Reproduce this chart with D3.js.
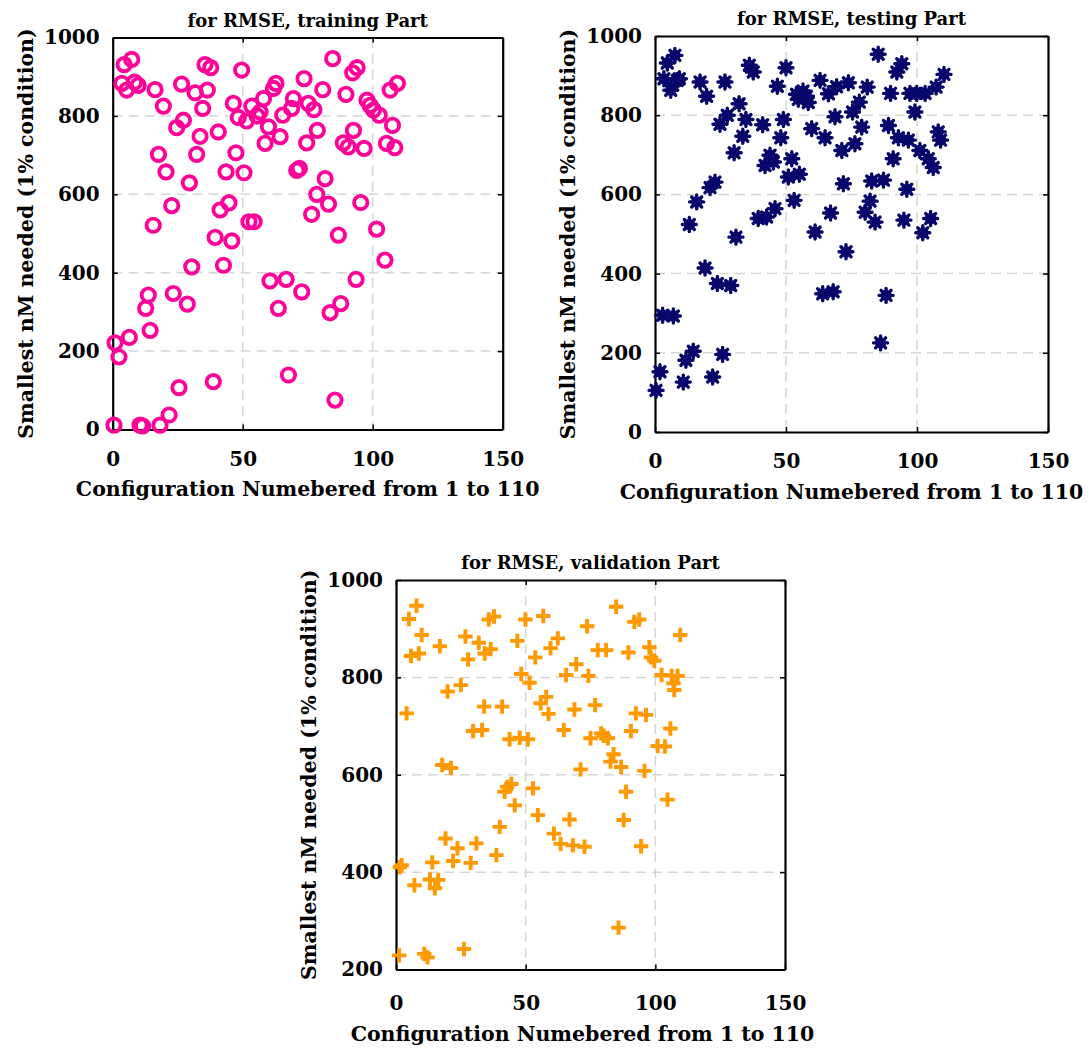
<!DOCTYPE html>
<html>
<head>
<meta charset="utf-8">
<script src="https://cdn.jsdelivr.net/npm/d3@7"></script>
<style>
  body { margin: 0; background: #fff; }
  text { font-family: "DejaVu Serif", serif; font-weight: bold; fill: #000; }
</style>
</head>
<body>
<div id="chart-area"></div>
<script>
// training part (circles)
const trainX = [7.3, 4.4, 3.5, 5.4, 8.4, 9.8, 16.3, 19.5, 26.5, 31.7, 36.4, 35.5, 37.7, 49.6, 34.6, 27.2, 24.6, 33.6, 40.6, 17.6,
    32.3, 47.4, 20.5, 29.5, 43.6, 50.5, 46.4, 48.3, 51.5, 53.5, 56.7, 55.5, 58, 59.9, 58.6, 64.4, 61.8, 62.8, 65.4, 68.8,
    84.6, 92.3, 94, 73.6, 80.8, 89.7, 106.7, 109.5, 69.5, 75.2, 77.4, 97.8, 99, 100.3, 102.5, 107.6, 78.7, 74.6, 92.6, 88.7,
    90.6, 96.7, 105.3, 108.5, 70.8, 71.8, 81.7, 78.5, 83, 76.5, 95.4, 86.8, 101.5, 104.7, 93.6, 72.7, 83.6, 87.7, 85.5,
    22.7, 15.6, 41.3, 44.7, 52.4, 54.4, 39.4, 45.8, 30.4, 42.6, 60.5, 66.7, 63.7, 13.7, 12.7, 23.3, 28.7, 14.4, 6.4, 0.9,
    2.4, 25.5, 38.7, 67.6, 0.5, 10.5, 11.5, 18.2, 21.7];
const trainY = [944, 931, 883, 866, 886, 878, 867, 825, 881, 859, 866, 931, 923, 917, 819, 789, 770, 748, 759, 702,
    702, 706, 657, 629, 657, 655, 832, 796, 787, 825, 810, 800, 844, 772, 730, 747, 870, 883, 802, 819,
    946, 910, 923, 895, 867, 855, 866, 883, 844, 832, 816, 840, 827, 815, 802, 776, 763, 731, 763, 731,
    721, 717, 730, 719, 661, 666, 640, 600, 575, 549, 579, 496, 511, 432, 383, 351, 298, 321, 75,
    571, 521, 560, 578, 530, 530, 490, 481, 415, 419, 379, 383, 309, 343, 309, 347, 320, 253, 235, 221,
    185, 107, 122, 139, 11, 11, 9, 11, 37];

// testing part (asterisks)
const testX = [7.6, 4.7, 3.4, 6, 9.3, 8.5, 17.2, 19.7, 26.7, 36, 37.5, 50, 46.7, 32.1, 27.6, 24.8, 34.7, 33.5, 41.1, 49,
    48, 30.2, 43.9, 42, 45.2, 52.2, 50.9, 55.1, 22.9, 21, 15.9, 13.1, 39.4, 42.6, 45.8, 53.1, 30.9, 19.1, 23.8, 28.9,
    2.9, 7, 14.6, 11.8, 25.8, 1.9, 0.4, 10.8, 22, 54, 56.5, 58.5, 54.7, 57.8, 63, 59.8, 64.9, 66.2, 61.1, 64,
    67, 68, 85.2, 92.3, 94.2, 110.3, 107.3, 103.1, 99.9, 97.3, 99.2, 89.9, 81, 78, 75.4, 73.8, 69.3, 68.7, 78.9, 89.1,
    92.9, 96.7, 71.3, 76.3, 90.9, 101.1, 104.3, 106.2, 109, 108.1, 71.9, 82.7, 87.2, 96.1, 82.1, 80.2, 84, 95, 105.2, 102.2,
    72.9, 88.2, 86.1];
const testY = [951, 932, 892, 863, 892, 888, 884, 848, 884, 926, 909, 920, 873, 829, 800, 777, 789, 747, 776, 789,
    743, 705, 699, 673, 682, 690, 644, 651, 631, 617, 581, 524, 539, 543, 564, 585, 492, 414, 375, 370,
    295, 293, 204, 181, 196, 152, 105, 126, 139, 853, 861, 832, 840, 848, 888, 766, 743, 854, 505, 349,
    553, 354, 954, 909, 930, 903, 871, 855, 855, 855, 808, 855, 871, 833, 808, 882, 872, 796, 770, 774,
    743, 737, 711, 728, 690, 711, 690, 668, 737, 758, 627, 634, 636, 613, 583, 555, 530, 535, 539, 503,
    455, 345, 225];

// validation part (plus signs)
const validX = [7.9, 5, 9.9, 5.8, 8.8, 16.9, 26.8, 31.9, 34.2, 36.5, 27.8, 35.8, 37.8, 49.9, 56.8, 46.8, 53.7, 62.4, 59.6, 48.3,
    51.5, 65.6, 69.5, 73.7, 74.2, 25, 19.9, 4.1, 34, 40.9, 55.8, 57.9, 58.8, 68.8, 29.7, 33.2, 43.8, 47.7, 50.9, 64.7,
    75, 17.8, 21.2, 71.2, 44.5, 41.9, 42.9, 52.8, 45.8, 54.7, 66.9, 40, 60.9, 63.5, 68.2, 72.7, 19.1, 23.7, 22, 31,
    28.8, 38.7, 14, 2.2, 1.5, 7.1, 13.1, 16.3, 15, 1.2, 10.9, 12.2, 26.2,
    84.9, 91.9, 93.8, 109.6, 77.8, 81, 89.6, 97.7, 98.3, 99.6, 102.4, 106.3, 108.6, 107, 107.3, 76.8, 92.5, 96.4, 90.6, 105.8,
    79.1, 81.7, 80.1, 100.9, 103.7, 83.9, 82.7, 86.8, 95.8, 88.7, 104.7, 87.8, 94.5, 85.8];
const validY = [947, 920, 887, 844, 849, 864, 884, 871, 849, 858, 837, 919, 925, 919, 926, 875, 841, 880, 860, 807,
    789, 805, 827, 905, 803, 784, 771, 726, 740, 740, 747, 760, 725, 734, 690, 692, 673, 676, 673, 692,
    675, 620, 614, 611, 581, 565, 575, 572, 537, 517, 508, 493, 479, 458, 455, 452, 469, 449, 423, 459,
    419, 435, 420, 414, 410, 373, 385, 384, 367, 229, 232, 225, 242,
    945, 914, 919, 887, 856, 856, 851, 862, 841, 834, 805, 803, 803, 788, 774, 743, 726, 723, 690, 695,
    685, 675, 680, 659, 658, 642, 627, 616, 608, 565, 549, 507, 453, 286];

const xTicks = [0, 50, 100, 150];
const yTicksTop = [0, 200, 400, 600, 800, 1000];
const yTicksBottom = [200, 400, 600, 800, 1000];

const svg = d3.select("#chart-area").append("svg")
    .attr("width", 1089)
    .attr("height", 1048);

function drawPanel(p) {
    const g = svg.append("g")
        .attr("transform", `translate(${p.left}, ${p.top})`);

    const x = d3.scaleLinear().domain([0, 150]).range([0, p.width]);
    const y = d3.scaleLinear().domain(p.yDomain).range([p.height, 0]);

    // dashed grid
    g.selectAll(".vgrid").data(xTicks.slice(1, -1)).enter()
        .append("line")
        .attr("x1", d => x(d)).attr("x2", d => x(d))
        .attr("y1", 0).attr("y2", p.height)
        .attr("stroke", "#d6d6d6").attr("stroke-width", 1.5)
        .attr("stroke-dasharray", "10,6");
    g.selectAll(".hgrid").data(p.yTicks.slice(1, -1)).enter()
        .append("line")
        .attr("x1", 0).attr("x2", p.width)
        .attr("y1", d => y(d)).attr("y2", d => y(d))
        .attr("stroke", "#d6d6d6").attr("stroke-width", 1.5)
        .attr("stroke-dasharray", "10,6");

    // axes, ticks pointing inward
    g.append("g")
        .attr("transform", `translate(0, ${p.height})`)
        .call(d3.axisBottom(x).tickValues(xTicks).tickSize(-5).tickSizeOuter(0).tickPadding(p.xPad).tickFormat(d3.format("d")));
    g.append("g")
        .call(d3.axisLeft(y).tickValues(p.yTicks).tickSize(-5).tickSizeOuter(0).tickPadding(13).tickFormat(d3.format("d")));
    g.append("g")
        .call(d3.axisTop(x).tickValues(xTicks).tickSize(-5).tickSizeOuter(0).tickFormat(""));
    g.append("g")
        .attr("transform", `translate(${p.width}, 0)`)
        .call(d3.axisRight(y).tickValues(p.yTicks).tickSize(-5).tickSizeOuter(0).tickFormat(""));

    g.selectAll(".domain").attr("stroke", "#000").attr("stroke-width", 2.2);
    g.selectAll(".tick line").attr("stroke", "#000").attr("stroke-width", 1.5);
    g.selectAll(".tick text")
        .attr("font-family", "DejaVu Serif")
        .attr("font-weight", "bold")
        .attr("font-size", 20)
        .attr("fill", "#000");

    // markers
    const pts = p.xs.map((d, i) => [d, p.ys[i]]);
    const m = g.selectAll(".pt").data(pts).enter()
        .append("g")
        .attr("transform", d => `translate(${x(d[0])}, ${y(d[1])})`);

    if (p.marker === "circle") {
        m.append("circle")
            .attr("r", 6.7)
            .attr("fill", "none")
            .attr("stroke", p.color)
            .attr("stroke-width", 3.8);
    } else if (p.marker === "star") {
        m.append("circle").attr("r", 5.6).attr("fill", p.color);
        m.append("path")
            .attr("d", "M-7,0H7M0,-7V7M-5,-5L5,5M-5,5L5,-5")
            .attr("stroke", p.color)
            .attr("stroke-width", 3.4)
            .attr("stroke-linecap", "round");
    } else {
        m.append("path")
            .attr("d", "M-7.2,0H7.2M0,-7.2V7.2")
            .attr("stroke", p.color)
            .attr("stroke-width", 3.9);
    }

    // title and axis labels
    g.append("text")
        .attr("x", p.width / 2)
        .attr("y", -11)
        .attr("text-anchor", "middle")
        .attr("font-size", 18)
        .text(p.title);

    g.append("text")
        .attr("x", p.width / 2 + p.labelShift)
        .attr("y", p.height + p.labelGap)
        .attr("text-anchor", "middle")
        .attr("font-size", 20.5)
        .text("Configuration Numebered from 1 to 110");

    g.append("text")
        .attr("x", -(p.height / 2))
        .attr("y", -80)
        .attr("text-anchor", "middle")
        .attr("transform", "rotate(-90)")
        .attr("font-size", 20.5)
        .text("Smallest nM needed (1% condition)");
}

drawPanel({
    left: 112.7, top: 37.5, width: 390, height: 392,
    xs: trainX, ys: trainY, yDomain: [0, 1000], yTicks: yTicksTop,
    xPad: 22, labelGap: 66, labelShift: 0,
    marker: "circle", color: "#ff0099", title: "for RMSE, training Part"
});

drawPanel({
    left: 655, top: 36, width: 393, height: 396,
    xs: testX, ys: testY, yDomain: [0, 1000], yTicks: yTicksTop,
    xPad: 22, labelGap: 67, labelShift: 0,
    marker: "star", color: "#06066b", title: "for RMSE, testing Part"
});

drawPanel({
    left: 396, top: 580, width: 389, height: 389.5,
    xs: validX, ys: validY, yDomain: [200, 1000], yTicks: yTicksBottom,
    xPad: 26, labelGap: 71, labelShift: -8,
    marker: "plus", color: "#ff9900", title: "for RMSE, validation Part"
});
</script>
</body>
</html>
